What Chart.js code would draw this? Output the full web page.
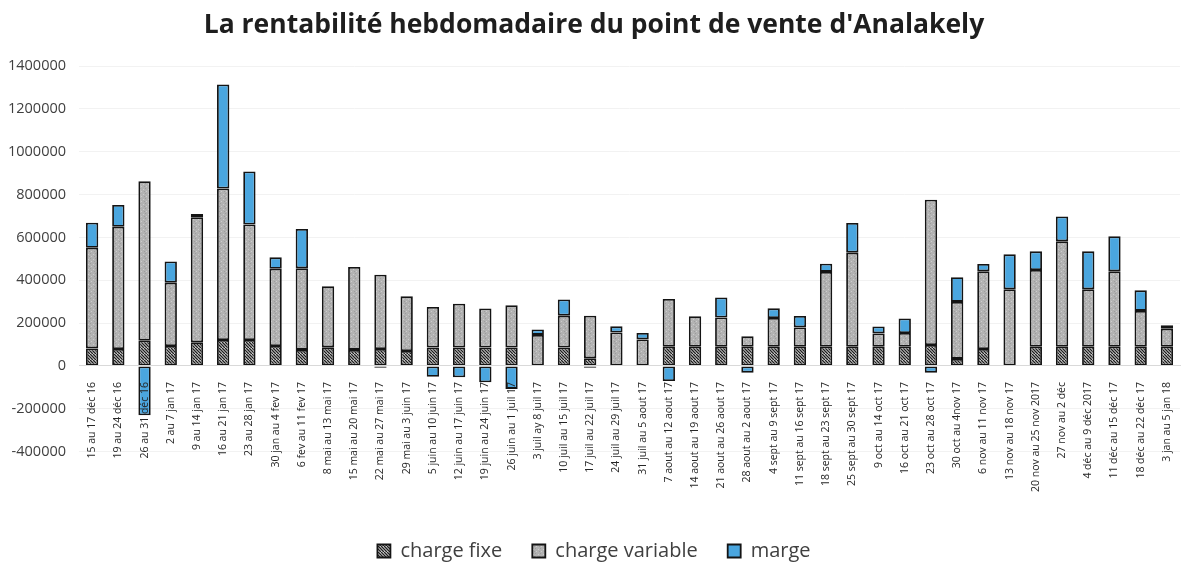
<!DOCTYPE html>
<html>
<head>
<meta charset="utf-8">
<script src="https://cdn.jsdelivr.net/npm/chart.js@4/dist/chart.umd.min.js"></script>
<style>
  html, body { margin: 0; padding: 0; background: #ffffff; }
  #wrap { width: 1191px; height: 577px; }
</style>
</head>
<body>
<div id="wrap"><canvas id="c" width="1191" height="577"></canvas></div>
<script>
const categories = [
  "15 au 17 déc 16", "19 au 24 déc 16", "26 au 31 déc 16", "2 au 7 jan 17",
  "9 au 14 jan 17", "16 au 21 jan 17", "23 au 28 jan 17", "30 jan au 4 fev 17",
  "6 fev au 11 fev 17", "8 mai au 13 mai 17", "15 mai au 20 mai 17", "22 mai au 27 mai 17",
  "29 mai au 3 juin 17", "5 juin au 10 juin 17", "12 juin au 17 juin 17", "19 juin au 24 juin 17",
  "26 juin au 1 juil 17", "3 juil ay 8 juil 17", "10 juil au 15 juil 17", "17 juil au 22 juil 17",
  "24 juil au 29 juil 17", "31 juil au 5 aout 17", "7 aout au 12 aout 17", "14 aout au 19 aout 17",
  "21 aout au 26 aout 17", "28 aout au 2 aout 17", "4 sept au 9 sept 17", "11 sept au 16 sept 17",
  "18 sept au 23 sept 17", "25 sept au 30 sept 17", "9 oct au 14 oct 17", "16 oct au 21 oct 17",
  "23 oct au 28 oct 17", "30 oct au 4nov 17", "6 nov au 11 nov 17", "13 nov au 18 nov 17",
  "20 nov au 25 nov 2017", "27 nov au 2 déc", "4 déc au 9 déc 2017", "11 déc au 15 déc 17",
  "18 déc au 22 déc 17", "3 jan au 5 jan 18"
];

const chargeFixe = [
  82000, 79000, 118000, 93000, 111000, 121000, 121000, 93000, 75000, 87000,
  75000, 79000, 70000, 86000, 86000, 86000, 86000, 0, 86000, 36000,
  0, 0, 90000, 90000, 90000, 90000, 90000, 90000, 90000, 90000,
  90000, 90000, 98000, 33000, 79000, 0, 90000, 90000, 90000, 90000,
  90000, 90000
];

const chargeVariable = [
  470000, 571000, 744000, 296000, 583000, 707000, 539000, 361000, 381000, 285000,
  387000, 347000, 255000, 189000, 205000, 182000, 197000, 145000, 149000, 199000,
  156000, 124000, 223000, 142000, 136000, 49000, 134000, 90000, 349000, 439000,
  62000, 64000, 678000, 266000, 363000, 358000, 358000, 492000, 268000, 352000,
  167000, 84000
];

const marge = [
  117000, 101000, -230000, 99000, 15000, 486000, 248000, 53000, 183000, 0,
  0, -8000, 0, -50000, -53000, -76000, -107000, 25000, 75000, -8000,
  29000, 30000, -70000, 0, 94000, -31000, 45000, 53000, 38000, 138000,
  32000, 68000, -31000, 115000, 34000, 163000, 87000, 116000, 177000, 163000,
  96000, 16000
];

const yTickValues = [-400000, -200000, 0, 200000, 400000, 600000, 800000, 1000000, 1200000, 1400000];

const titleText = "La rentabilité hebdomadaire du point de vente d'Analakely";
const seriesNames = ["charge fixe", "charge variable", "marge"];

function hatchPattern() {
  const c = document.createElement('canvas');
  c.width = 6; c.height = 6;
  const g = c.getContext('2d');
  g.fillStyle = '#ffffff';
  g.fillRect(0, 0, 6, 6);
  g.strokeStyle = '#1e1e1e';
  g.lineWidth = 1.5;
  for (let k = -12; k <= 12; k += 3) {
    g.beginPath();
    g.moveTo(k, 0);
    g.lineTo(k + 6, 6);
    g.stroke();
  }
  return document.getElementById('c').getContext('2d').createPattern(c, 'repeat');
}

function speckPattern() {
  const c = document.createElement('canvas');
  c.width = 5; c.height = 5;
  const g = c.getContext('2d');
  g.fillStyle = '#b2b2b2';
  g.fillRect(0, 0, 5, 5);
  g.fillStyle = '#cdcdcd';
  g.fillRect(1, 1, 1, 1);
  g.fillRect(3, 4, 1, 1);
  g.fillStyle = '#9c9c9c';
  g.fillRect(4, 1, 1, 1);
  g.fillRect(0, 3, 1, 1);
  return document.getElementById('c').getContext('2d').createPattern(c, 'repeat');
}

const commonBar = {
  borderColor: '#141414',
  borderWidth: 1.8,
  borderSkipped: false,
  barPercentage: 0.47,
  categoryPercentage: 1.0
};

const chart = new Chart(document.getElementById('c'), {
  type: 'bar',
  data: {
    labels: categories,
    datasets: [
      Object.assign({ label: seriesNames[0], data: chargeFixe, backgroundColor: hatchPattern() }, commonBar),
      Object.assign({ label: seriesNames[1], data: chargeVariable, backgroundColor: speckPattern() }, commonBar),
      Object.assign({ label: seriesNames[2], data: marge, backgroundColor: '#4aa6df' }, commonBar)
    ]
  },
  options: {
    responsive: false,
    animation: false,
    layout: { padding: { left: 8, right: 11, top: 0, bottom: 6 } },
    plugins: {
      title: {
        display: true,
        text: titleText,
        color: '#1e1e1e',
        font: { family: '"Open Sans", sans-serif', size: 26.5, weight: 'bold' },
        padding: { top: 9.1, bottom: 25.1 }
      },
      subtitle: {
        display: true,
        position: 'bottom',
        weight: 500,
        text: ' ',
        color: 'rgba(0,0,0,0)',
        font: { size: 10 },
        padding: { top: 24, bottom: 23.3 }
      },
      legend: {
        position: 'bottom',
        labels: {
          color: '#404040',
          font: { family: '"Open Sans", sans-serif', size: 20 },
          boxWidth: 13,
          boxHeight: 13,
          padding: 30
        }
      },
      tooltip: { enabled: false }
    },
    scales: {
      x: {
        stacked: true,
        position: { y: 0 },
        grid: { display: false },
        border: { display: true, color: '#d9d9d9', width: 1, z: 1 },
        ticks: {
          autoSkip: false,
          minRotation: 90,
          maxRotation: 90,
          padding: 8,
          z: 1,
          color: '#262626',
          font: { family: '"Liberation Sans Narrow", "Open Sans", sans-serif', size: 10.5 }
        }
      },
      y: {
        stacked: true,
        min: -400000,
        max: 1400000,
        afterBuildTicks: (axis) => { axis.ticks = yTickValues.map(v => ({ value: v })); },
        afterFit: (axis) => { axis.width = 71; },
        grid: { color: '#f2f2f2', drawTicks: false },
        border: { display: false },
        ticks: {
          padding: 13,
          color: '#404040',
          font: { family: '"Open Sans", sans-serif', size: 14.5 },
          callback: (v) => String(v)
        }
      }
    }
  }
});
</script>
</body>
</html>
